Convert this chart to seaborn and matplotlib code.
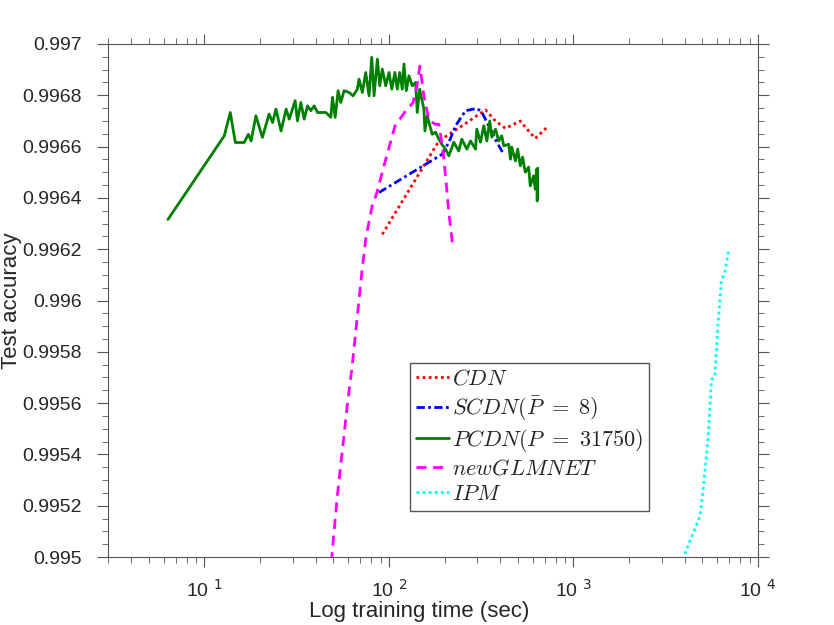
import numpy as np
import pandas as pd
import matplotlib
matplotlib.use("Agg")
import matplotlib.pyplot as plt
from matplotlib.font_manager import FontProperties
from matplotlib.ticker import MultipleLocator, LogLocator, NullFormatter, FuncFormatter
import seaborn as sns

# CDN
cdn_time = [92.0, 186.4, 249.0, 333.4, 377.6, 427.6, 515.1, 559.8, 620.6, 717.8]
cdn_acc = [0.996258, 0.996622, 0.996681, 0.996743, 0.99670, 0.996671, 0.99670,
           0.996668, 0.996632, 0.996675]

# SCDN (P bar = 8)
scdn_time = [88.3, 194.1, 210.9, 229.5, 260.0, 300.2, 319.3, 347.2, 384.7, 418.8]
scdn_acc = [0.996421, 0.99657, 0.996616, 0.996681, 0.99674, 0.996749, 0.996733,
            0.996681, 0.996616, 0.99657]

# PCDN (P = 31750)
pcdn_time = [6.34, 12.8, 13.8, 14.7, 16.4, 17.3, 17.9, 19.0, 20.6, 22.4,
             23.4, 24.4, 26.0, 27.7, 28.8, 31.0, 31.9, 33.3, 34.7, 36.2,
             37.7, 39.3, 41.0, 45.5, 48.4, 49.4, 51.1, 53.0, 54.8, 57.1,
             60.8, 63.9, 67.4, 68.8, 71.7, 74.8, 78.0, 80.6, 83.0, 86.5,
             89.1, 92.0, 96.0, 100.0, 103.5, 107.7, 110.9, 114.3, 118.0, 120.5,
             124.1, 128.3, 133.7, 139.4, 142.3, 146.6, 154.6, 156.6, 161.1, 171.5,
             178.8, 186.4, 193.3, 202.5, 210.9, 224.5, 238.9, 248.1, 264.2, 276.6,
             294.4, 299.2, 313.3, 326.6, 339.0, 351.8, 360.6, 377.6, 393.6, 408.4,
             418.8, 445.7, 455.3, 462.6, 484.4, 498.1, 515.1, 530.0, 548.0, 571.1,
             583.1, 608.0, 620.6, 631.0, 636.0, 640.0]
pcdn_acc = [0.996316, 0.996642, 0.996733, 0.996616, 0.996616, 0.996648, 0.996622, 0.99672, 0.996636, 0.996727,
            0.996694, 0.996746, 0.996661, 0.996746, 0.996707, 0.996779, 0.99670, 0.996772, 0.996707, 0.996759,
            0.99674, 0.996759, 0.996733, 0.996733, 0.996714, 0.996792, 0.996714, 0.996818, 0.996772, 0.996818,
            0.996811, 0.996798, 0.996824, 0.996863, 0.996811, 0.996889, 0.996798, 0.996948, 0.996798, 0.996941,
            0.996837, 0.996902, 0.996837, 0.996889, 0.996824, 0.996889, 0.996824, 0.996889, 0.996824, 0.996922,
            0.996818, 0.996876, 0.996837, 0.99685, 0.996733, 0.996824, 0.996746, 0.996661, 0.99672, 0.996648,
            0.996656, 0.996629, 0.996609, 0.99659, 0.996564, 0.996617, 0.996583, 0.996629, 0.99659, 0.996622,
            0.99659, 0.996668, 0.996617, 0.996681, 0.996622, 0.99670, 0.996637, 0.996668, 0.996622, 0.996642,
            0.996603, 0.996609, 0.996551, 0.996598, 0.996544, 0.99659, 0.996525, 0.996559, 0.99650, 0.99652,
            0.996447, 0.996486, 0.996434, 0.996512, 0.996388, 0.996516]

# newGLMNET
glm_time = [48.7, 52.4, 55.7, 59.3, 63.1, 67.1, 71.5, 75.2, 81.0, 86.1, 95.1, 107.7,
            125.0, 134.8, 141.7, 147.1, 154.6, 164.4, 177.3, 186.4, 195.9, 203.3,
            210.9, 221.8]
glm_acc = [0.99498, 0.995234, 0.995406, 0.995586, 0.995742, 0.995926, 0.996121, 0.99625,
           0.996367, 0.996422, 0.996539, 0.99668, 0.996746, 0.99677, 0.996836, 0.996914,
           0.996797, 0.996707, 0.996687, 0.996687, 0.99659, 0.996473, 0.996344, 0.996211]

# IPM
ipm_time = [3900, 4842, 5047, 5370, 5598, 5834, 6081, 6339, 6607, 6950]
ipm_acc = [0.99499, 0.995158, 0.995262, 0.99547, 0.995691, 0.995704, 0.995913,
           0.996082, 0.996108, 0.9962]

labels = [r"$CDN$", r"$SCDN(\bar{P}\ =\ 8)$", r"$PCDN(P\ =\ 31750)$", r"$newGLMNET$", r"$IPM$"]

sns.set_style("ticks")
plt.rcParams["font.family"] = ["Liberation Sans Narrow", "Liberation Sans", "DejaVu Sans"]

fig = plt.figure(figsize=(8.34, 6.25), dpi=100)
ax = fig.add_axes([108 / 834, 1 - 557 / 625, 650 / 834, 513 / 625])

series = [
    (cdn_time, cdn_acc, "red", (1, 1.2)),
    (scdn_time, scdn_acc, "blue", (3, 1.2, 1, 1.2)),
    (pcdn_time, pcdn_acc, "green", ""),
    (glm_time, glm_acc, "magenta", (3.6, 2.4)),
    (ipm_time, ipm_acc, "cyan", (1, 1.2)),
]
for (t, a, c, d), lab in zip(series, labels):
    df = pd.DataFrame({"time": t, "acc": a})
    sns.lineplot(data=df, x="time", y="acc", ax=ax, color=c, lw=2.0,
                 sort=False, estimator=None, label=lab)
    if d:
        ax.lines[-1].set_dashes(d)

ax.set_xscale("log")
ax.set_xlim(3, 1e4)
ax.set_ylim(0.995, 0.997)
ax.yaxis.set_major_locator(MultipleLocator(0.0002))
ax.yaxis.set_minor_locator(MultipleLocator(0.00005))
ax.yaxis.set_major_formatter(FuncFormatter(lambda v, p: f"{v:.4f}".rstrip("0")))
ax.xaxis.set_major_locator(LogLocator(base=10, numticks=10))
ax.xaxis.set_major_formatter(FuncFormatter(lambda v, p: f"10 $^{{{int(round(np.log10(v)))}}}$"))
ax.xaxis.set_minor_locator(LogLocator(base=10, subs=np.arange(2, 10), numticks=20))
ax.xaxis.set_minor_formatter(NullFormatter())

ax.tick_params(which="both", direction="out", top=True, right=True, color="#555555",
               labelsize=14)
ax.tick_params(axis="y", which="major", length=8, pad=11)
ax.tick_params(axis="x", which="major", length=7, pad=9)
ax.tick_params(which="minor", length=4)
for s in ax.spines.values():
    s.set_color("#555555")

ax.set_xlabel("Log training time (sec)", fontsize=16, va="top")
ax.set_ylabel("Test accuracy", fontsize=16)
ax.xaxis.set_label_coords(0.478, -0.086)
ax.yaxis.set_label_coords(-0.132, 0.5)

leg_font = FontProperties(size=16, math_fontfamily="cm")
ax.legend(loc="upper left", bbox_to_anchor=(0.4646, 0.378), prop=leg_font,
          frameon=True, fancybox=False, edgecolor="#555555", framealpha=1,
          handlelength=1.5, handletextpad=0.15, borderpad=0.25, labelspacing=0.2,
          borderaxespad=0)

fig.savefig("out.png", dpi=100)
